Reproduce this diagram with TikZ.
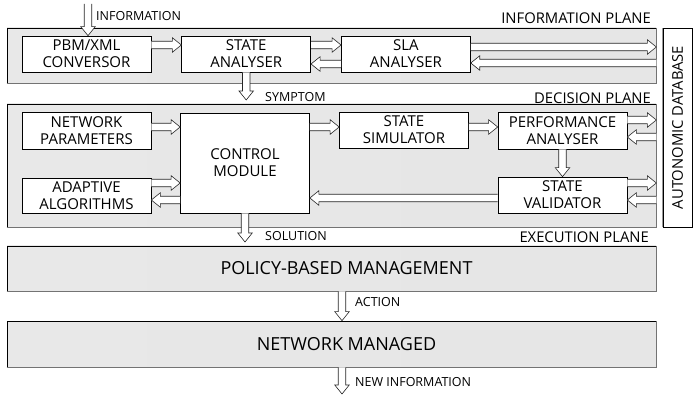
\documentclass[tikz,border=0pt]{standalone}
\usepackage{fontspec}
\setmainfont{Open Sans}
\usepackage{tikz}
\usetikzlibrary{positioning,calc}

\newcommand\blocktext{\fontsize{15pt}{16.8pt}\selectfont}
\newcommand\titletext{\fontsize{14.8pt}{17pt}\selectfont}
\newcommand\tagtext{\fontsize{12.5pt}{15pt}\selectfont}
\newcommand\layertext{\fontsize{18pt}{22pt}\selectfont}

\begin{document}
\begin{tikzpicture}[x=1pt,y=-1pt,
  plane/.style={draw=black,line width=0.7pt,left color=black!9,middle color=black!3,right color=black!10,inner sep=0pt},
  rim/.style={draw=black!55,line width=1.3pt},
  block/.style={draw,fill=white,line width=0.7pt,minimum width=129pt,minimum height=36pt,align=center,inner sep=0pt,font=\blocktext},
  flow/.style={draw=black!85,fill=white,line width=0.6pt,line join=miter,
    to path={($(\tikztostart)!3.75pt!90:(\tikztotarget)$)
      -- ($(\tikztotarget)!9pt!(\tikztostart)!3.75pt!90:(\tikztotarget)$)
      -- ($(\tikztotarget)!9pt!(\tikztostart)!7.25pt!90:(\tikztotarget)$)
      -- (\tikztotarget)
      -- ($(\tikztotarget)!9pt!(\tikztostart)!7.25pt!-90:(\tikztotarget)$)
      -- ($(\tikztotarget)!9pt!(\tikztostart)!3.75pt!-90:(\tikztotarget)$)
      -- ($(\tikztostart)!3.75pt!-90:(\tikztotarget)$)}},
  tag/.style={anchor=west,inner sep=0pt,font=\tagtext},
  title/.style={anchor=east,inner sep=0pt,font=\titletext}]
  \useasboundingbox (0,0) rectangle (693,395);

  % planes
  \node[plane,minimum width=649pt,minimum height=55pt] (infoplane) at (331.5,55.5) {};
  \node[plane,minimum width=649pt,minimum height=123pt] (decplane) at (331.5,165.5) {};
  \node[plane,minimum width=649pt,minimum height=45pt] (policy) at (331.5,268.5) {};
  \node[plane,minimum width=649pt,minimum height=46pt] (network) at (331.5,344) {};
  \foreach \p in {infoplane,decplane,policy,network}
    \draw[rim] (\p.south west) -- (\p.south east) -- (\p.north east);
  \node[font=\layertext] (policytext) at (346.5,268.5) {POLICY-BASED MANAGEMENT};
  \node[font=\layertext] (networktext) at (346.5,344) {NETWORK MANAGED};
  \node[draw=black,fill=white,line width=0.7pt,rotate=90,minimum width=199pt,minimum height=29pt,inner sep=0pt,font=\titletext] (database) at (677.5,127.5) {AUTONOMIC DATABASE};
  \draw[rim,draw=black!40,line width=0.8pt] (database.north west) -- (database.north east);

  \node[title] (infotitle) at (651,18) {INFORMATION PLANE};
  \node[title] (dectitle) at (651,98) {DECISION PLANE};
  \node[title] (exectitle) at (649,237) {EXECUTION PLANE};

  % information plane
  \node[block] (pbm) at (86.5,54) {PBM/XML\\CONVERSOR};
  \node[block,right=30pt of pbm] (state) {STATE\\ANALYSER};
  \node[block,right=30pt of state] (sla) {SLA\\ANALYSER};

  % decision plane
  \node[block,minimum height=37pt] (netpar) at (86.5,130.5) {NETWORK\\PARAMETERS};
  \node[block,minimum height=100pt] (control) at (245,163) {CONTROL\\MODULE};
  \node[block,minimum height=35pt] (adapt) at (86.5,195.5) {ADAPTIVE\\ALGORITHMS};
  \node[block] (simul) at (404,130) {STATE\\SIMULATOR};
  \node[block,minimum height=37pt] (perf) at (562.5,130.5) {PERFORMANCE\\ANALYSER};
  \node[block] (valid) at (562.5,195) {STATE\\VALIDATOR};

  % free ends
  \coordinate (infoin) at (88,4);
  \coordinate (symptom) at (state.south |- 0,100);
  \coordinate (solution) at (control.south |- 0,242);
  \coordinate (newinfo) at (342,394);

  \path[flow]
    (infoin) to (infoin |- pbm.north)
    (pbm.east |- 0,45) to (state.west |- 0,45)
    (state.east |- 0,45) to (sla.west |- 0,45)
    (sla.west |- 0,64) to (state.east |- 0,64)
    (sla.east |- 0,47) to (infoplane.east |- 0,47)
    (infoplane.east |- 0,63) to (sla.east |- 0,63)
    (state.south) to (symptom)
    (netpar.east |- 0,127) to (control.west |- 0,127)
    (control.east |- 0,127) to (simul.west |- 0,127)
    (simul.east |- 0,127) to (perf.west |- 0,127)
    (perf.east |- 0,120) to (decplane.east |- 0,120)
    (decplane.east |- 0,137) to (perf.east |- 0,137)
    (perf.south) to (valid.north)
    (valid.east |- 0,183) to (decplane.east |- 0,183)
    (decplane.east |- 0,200) to (valid.east |- 0,200)
    (valid.west |- 0,198) to (control.east |- 0,198)
    (adapt.east |- 0,183) to (control.west |- 0,183)
    (control.west |- 0,200) to (adapt.east |- 0,200)
    (control.south) to (solution)
    (342,0 |- policy.south) to (342,0 |- network.north)
    (342,0 |- network.south) to (newinfo);

  \node[tag] (infolabel) at (96,16.5) {INFORMATION};
  \node[tag] (symptomlabel) at (265,97.5) {SYMPTOM};
  \node[tag] (solutionlabel) at (265,236.5) {SOLUTION};
  \node[tag] (actionlabel) at (355,302) {ACTION};
  \node[tag] (newinfolabel) at (355,382) {NEW INFORMATION};
\end{tikzpicture}
\end{document}
